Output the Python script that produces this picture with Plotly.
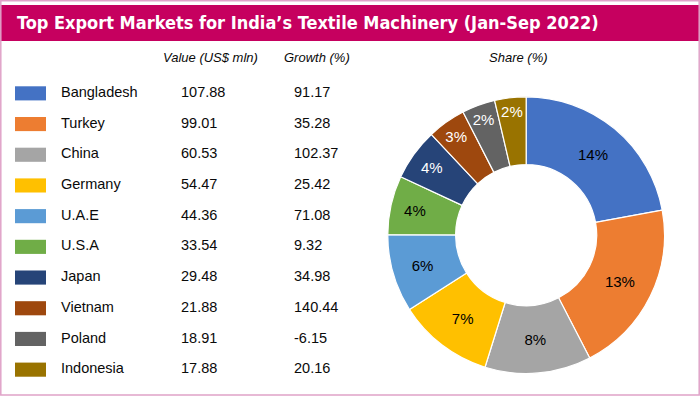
import plotly.graph_objects as go

countries = ["Bangladesh", "Turkey", "China", "Germany", "U.A.E", "U.S.A",
             "Japan", "Vietnam", "Poland", "Indonesia"]
values = [107.88, 99.01, 60.53, 54.47, 44.36, 33.54, 29.48, 21.88, 18.91, 17.88]
growth = [91.17, 35.28, 102.37, 25.42, 71.08, 9.32, 34.98, 140.44, -6.15, 20.16]
share_pct = [14, 13, 8, 7, 6, 4, 4, 3, 2, 2]
colors = ["#4472C4", "#ED7D31", "#A5A5A5", "#FFC000", "#5B9BD5", "#70AD47",
          "#264478", "#9E480E", "#636363", "#997300"]
label_colors = ["#000000"] * 6 + ["#FFFFFF"] * 4

title = "Top Export Markets for India’s Textile Machinery (Jan-Sep 2022)"
col_headers = ["Value (US$ mln)", "Growth (%)", "Share (%)"]

W, H = 700, 396
MAGENTA = "#C6005F"
PINK = "#E0A2C8"
FONT = "Liberation Sans, Arial, sans-serif"


def px(x):
    return x / W


def py(y):
    return 1 - y / H


fig = go.Figure()

# colour swatches (horizontal bars on a category axis)
fig.add_trace(go.Bar(
    y=countries, x=[31] * len(countries), base=15, orientation="h",
    width=0.46, marker=dict(color=colors, line=dict(width=0)),
    xaxis="x", yaxis="y", hoverinfo="skip", showlegend=False,
))

# table text columns
for xpos, texts in [(61, countries),
                    (181, [f"{v:.2f}" for v in values]),
                    (294, [f"{g:.2f}" for g in growth])]:
    fig.add_trace(go.Scatter(
        y=countries, x=[xpos] * len(countries), text=texts, mode="text",
        textposition="middle right",
        textfont=dict(family=FONT, size=14.5, color="#0A0A0A"),
        xaxis="x", yaxis="y", hoverinfo="skip", showlegend=False,
    ))

# donut
fig.add_trace(go.Pie(
    labels=countries, values=values, text=[f"{s}%" for s in share_pct],
    textinfo="text", textposition="inside", insidetextorientation="horizontal",
    sort=False, direction="clockwise", rotation=0, hole=0.51,
    marker=dict(colors=colors, line=dict(color="white", width=1.2)),
    textfont=dict(family=FONT, size=15, color=label_colors),
    domain=dict(x=[px(387.3), px(665)], y=[1 - 373.5 / H, 1 - 96.8 / H]),
    showlegend=False, hoverinfo="label+value",
))

shapes = [
    dict(type="rect", xref="paper", yref="paper", x0=px(0), x1=px(700),
         y0=py(41), y1=py(5), fillcolor=MAGENTA, line=dict(width=0), layer="below"),
    dict(type="rect", xref="paper", yref="paper", x0=px(0.8), x1=px(699.2),
         y0=py(395), y1=py(0.8), fillcolor="rgba(0,0,0,0)", line=dict(color=PINK, width=1.5)),
]

annotations = [
    dict(text=title, xref="paper", yref="paper", x=px(15), y=py(23),
         xanchor="left", yanchor="middle", showarrow=False,
         font=dict(family="DejaVu Sans Condensed, Liberation Sans, sans-serif", size=18,
                   color="white", weight="bold")),
]
for txt, cx in zip(col_headers, [210, 317, 518]):
    annotations.append(dict(text=txt, xref="paper", yref="paper", x=px(cx), y=py(57.5),
                            xanchor="center", yanchor="middle", showarrow=False,
                            font=dict(family=FONT, size=13, color="#0A0A0A", style="italic")))

fig.update_layout(
    width=W, height=H, margin=dict(l=0, r=0, t=0, b=0),
    paper_bgcolor="white", plot_bgcolor="white",
    xaxis=dict(domain=[0, 350 / W], range=[0, 350], visible=False, fixedrange=True),
    yaxis=dict(domain=[1 - 385 / H, 1 - 78 / H], type="category",
               categoryorder="array", categoryarray=countries,
               range=[len(countries) - 0.5, -0.5], visible=False, fixedrange=True),
    shapes=shapes, annotations=annotations, showlegend=False,
)

fig.write_html("out.html", config={"displayModeBar": False},
               post_script="document.body.style.margin='0';document.body.style.overflow='hidden';")
